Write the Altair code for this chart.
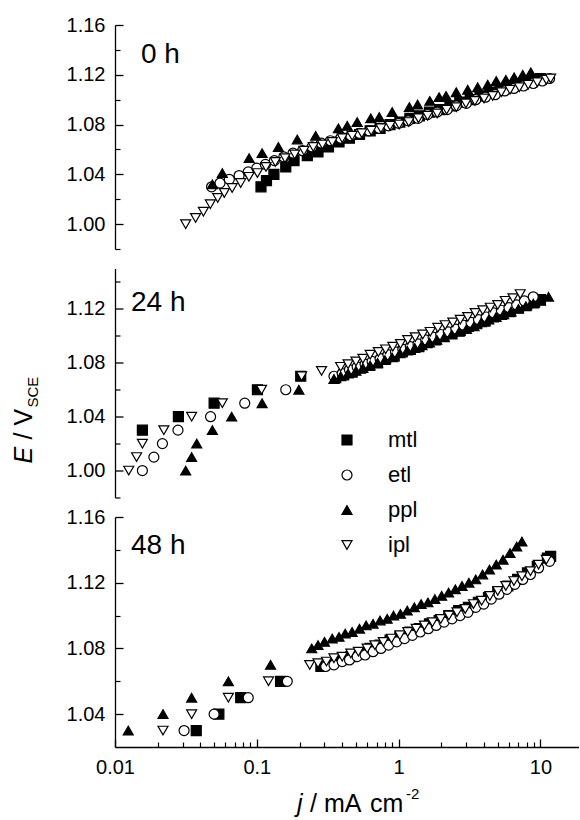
import altair as alt
import pandas as pd

FONT = "Liberation Sans"
SERIES = ["mtl", "etl", "ppl", "ipl"]
SHAPES = ["square", "circle", "triangle-up", "triangle-down"]
FILLS = ["black", "white", "black", "white"]
STROKES = ["black", "black", "black", "black"]
SIZES = [100, 100, 150, 150]

X_DOMAIN = [0.01, 18.7]
X_MAJOR = [0.01, 0.1, 1, 10]
X_MINOR = [0.02, 0.03, 0.04, 0.05, 0.06, 0.07, 0.08, 0.09,
           0.2, 0.3, 0.4, 0.5, 0.6, 0.7, 0.8, 0.9,
           2, 3, 4, 5, 6, 7, 8, 9]

PANEL_LABELS = ["0 h", "24 h", "48 h"]
Y_DOMAINS = [[0.98, 1.16], [0.98, 1.15], [1.02, 1.16]]
Y_MAJOR = [[1.00, 1.04, 1.08, 1.12, 1.16], [1.00, 1.04, 1.08, 1.12], [1.04, 1.08, 1.12, 1.16]]
Y_MINOR = [[0.98, 1.02, 1.06, 1.10, 1.14], [0.98, 1.02, 1.06, 1.10, 1.14], [1.06, 1.10, 1.14]]

# ---------------- 0 h ----------------
mtl_0_j = [0.107, 0.117, 0.132, 0.16, 0.183, 0.227, 0.27, 0.32, 0.38, 0.45, 0.53, 0.63, 0.74, 0.87, 1.02,
           1.2, 1.4, 1.65, 1.95, 2.3, 2.7, 3.2, 3.75, 4.4, 5.2, 6.1, 7.2, 8.5, 10.0]
mtl_0_E = [1.030, 1.035, 1.040, 1.046, 1.051, 1.055, 1.058, 1.062, 1.066, 1.069, 1.072, 1.075, 1.077, 1.080, 1.082,
           1.085, 1.087, 1.090, 1.092, 1.095, 1.098, 1.100, 1.103, 1.106, 1.108, 1.111, 1.113, 1.115, 1.117]
etl_0_j = [0.048, 0.055, 0.064, 0.075, 0.087, 0.100, 0.115, 0.133, 0.155, 0.18, 0.21, 0.245, 0.285, 0.33, 0.39,
           0.46, 0.53, 0.62, 0.73, 0.85, 1.0, 1.17, 1.37, 1.6, 1.87, 2.2, 2.55, 3.0, 3.5, 4.1, 4.8, 5.6, 6.5,
           7.6, 8.9, 10.3, 11.6]
etl_0_E = [1.030, 1.033, 1.036, 1.039, 1.042, 1.045, 1.048, 1.051, 1.054, 1.057, 1.059, 1.062, 1.065, 1.067, 1.069,
           1.071, 1.073, 1.075, 1.077, 1.079, 1.081, 1.083, 1.085, 1.088, 1.090, 1.092, 1.095, 1.097, 1.100, 1.102,
           1.104, 1.107, 1.109, 1.111, 1.113, 1.115, 1.117]
ppl_0_j = [0.0486, 0.0571, 0.0883, 0.109, 0.142, 0.193, 0.260, 0.376, 0.434, 0.51, 0.636, 0.73, 0.90, 1.19, 1.36,
           1.66, 1.93, 2.16, 2.55, 3.07, 3.61, 4.25, 4.88, 5.70, 6.52, 7.50, 8.55]
ppl_0_E = [1.032, 1.041, 1.053, 1.057, 1.062, 1.068, 1.071, 1.077, 1.079, 1.082, 1.085, 1.086, 1.090, 1.094, 1.096,
           1.099, 1.102, 1.103, 1.106, 1.108, 1.110, 1.112, 1.115, 1.116, 1.118, 1.120, 1.122]
ipl_0_j = [0.0315, 0.037, 0.042, 0.047, 0.053, 0.059, 0.067, 0.077, 0.088, 0.101, 0.116, 0.135, 0.158, 0.185,
           0.215, 0.25, 0.29, 0.34, 0.40, 0.47, 0.55, 0.64, 0.75, 0.87, 1.01, 1.18, 1.38, 1.60, 1.87, 2.18, 2.55,
           2.98, 3.45, 4.0, 4.6, 5.3, 6.1, 7.1, 8.2, 9.5, 11.0, 11.8]
ipl_0_E = [1.000, 1.005, 1.010, 1.016, 1.021, 1.025, 1.029, 1.033, 1.038, 1.041, 1.046, 1.050, 1.053, 1.056,
           1.059, 1.062, 1.064, 1.066, 1.069, 1.071, 1.073, 1.075, 1.077, 1.079, 1.080, 1.082, 1.085, 1.087, 1.089,
           1.092, 1.094, 1.097, 1.099, 1.101, 1.103, 1.106, 1.108, 1.110, 1.112, 1.114, 1.116, 1.117]

# ---------------- 24 h ----------------
mtl_24_j = [0.0156, 0.028, 0.050, 0.101, 0.204,
            0.36, 0.41, 0.47, 0.54, 0.62, 0.71, 0.81, 0.93, 1.06, 1.21, 1.39, 1.59, 1.82, 2.08, 2.38, 2.72,
            3.11, 3.56, 4.07, 4.66, 5.33, 6.1, 7.0, 8.0, 9.1, 10.0]
mtl_24_E = [1.03, 1.04, 1.05, 1.06, 1.07,
            1.069, 1.071, 1.073, 1.076, 1.078, 1.080, 1.083, 1.085, 1.088, 1.090, 1.092, 1.095, 1.097, 1.100,
            1.102, 1.104, 1.107, 1.109, 1.111, 1.114, 1.116, 1.118, 1.121, 1.123, 1.125, 1.127]
etl_24_j = [0.0156, 0.0188, 0.0216, 0.0278, 0.0472, 0.0822, 0.160,
            0.35, 0.40, 0.45, 0.51, 0.58, 0.65, 0.74, 0.84, 0.95, 1.07, 1.21, 1.37, 1.55, 1.75, 1.98, 2.24,
            2.53, 2.86, 3.24, 3.66, 4.14, 4.68, 5.3, 6.0, 6.8, 7.7, 8.9]
etl_24_E = [1.00, 1.01, 1.02, 1.03, 1.04, 1.05, 1.06,
            1.070, 1.072, 1.075, 1.077, 1.079, 1.081, 1.083, 1.086, 1.088, 1.090, 1.092, 1.094, 1.097, 1.099,
            1.101, 1.103, 1.105, 1.108, 1.110, 1.112, 1.114, 1.117, 1.119, 1.121, 1.123, 1.126, 1.129]
ppl_24_j = [0.0315, 0.0347, 0.0377, 0.0486, 0.0665, 0.109, 0.198,
            0.35, 0.39, 0.44, 0.50, 0.56, 0.63, 0.71, 0.80, 0.90, 1.02, 1.15, 1.30, 1.46, 1.65, 1.86, 2.1,
            2.37, 2.67, 3.01, 3.4, 3.83, 4.32, 4.87, 5.5, 6.2, 7.0, 7.9, 8.9, 10.0, 11.4]
ppl_24_E = [1.00, 1.01, 1.02, 1.03, 1.04, 1.05, 1.06,
            1.068, 1.070, 1.072, 1.074, 1.076, 1.078, 1.080, 1.082, 1.084, 1.087, 1.089, 1.091, 1.093, 1.095,
            1.097, 1.099, 1.101, 1.103, 1.105, 1.107, 1.110, 1.112, 1.114, 1.116, 1.118, 1.120, 1.122, 1.124,
            1.126, 1.129]
ipl_24_j = [0.0125, 0.0142, 0.0156, 0.0221, 0.0347, 0.0571, 0.108, 0.207, 0.286,
            0.39, 0.44, 0.50, 0.56, 0.63, 0.72, 0.81, 0.91, 1.03, 1.16, 1.31, 1.48, 1.67, 1.89, 2.13, 2.41,
            2.72, 3.07, 3.47, 3.92, 4.43, 5.0, 5.65, 6.4, 7.2]
ipl_24_E = [1.00, 1.01, 1.02, 1.03, 1.04, 1.05, 1.06, 1.07, 1.074,
            1.077, 1.079, 1.081, 1.083, 1.086, 1.088, 1.090, 1.092, 1.094, 1.097, 1.099, 1.101, 1.103, 1.106,
            1.108, 1.110, 1.112, 1.114, 1.117, 1.119, 1.121, 1.123, 1.126, 1.128, 1.131]

# ---------------- 48 h ----------------
mtl_48_j = [0.0374, 0.054, 0.077, 0.147,
            0.283, 0.33, 0.39, 0.46, 0.54, 0.63, 0.74, 0.87, 1.02, 1.2, 1.4, 1.65, 1.93, 2.26, 2.65, 3.1, 3.65,
            4.3, 5.0, 5.9, 6.9, 8.1, 9.5, 11.2, 11.8]
mtl_48_E = [1.03, 1.04, 1.05, 1.06,
            1.069, 1.071, 1.073, 1.075, 1.077, 1.080, 1.082, 1.085, 1.087, 1.090, 1.092, 1.095, 1.097, 1.100,
            1.103, 1.105, 1.108, 1.111, 1.114, 1.118, 1.122, 1.126, 1.130, 1.135, 1.136]
etl_48_j = [0.0307, 0.050, 0.087, 0.164,
            0.306, 0.35, 0.40, 0.45, 0.51, 0.58, 0.66, 0.75, 0.85, 0.97, 1.10, 1.25, 1.42, 1.62, 1.84, 2.09,
            2.38, 2.71, 3.08, 3.5, 3.98, 4.5, 5.1, 5.8, 6.6, 7.5, 8.5, 9.7, 11.6]
etl_48_E = [1.03, 1.04, 1.05, 1.06,
            1.069, 1.070, 1.072, 1.073, 1.075, 1.076, 1.078, 1.080, 1.082, 1.084, 1.086, 1.088, 1.090, 1.092,
            1.094, 1.096, 1.098, 1.100, 1.102, 1.105, 1.107, 1.110, 1.113, 1.116, 1.119, 1.122, 1.125, 1.129,
            1.133]
ppl_48_j = [0.0124, 0.0218, 0.0347, 0.063, 0.125,
            0.244, 0.27, 0.30, 0.34, 0.38, 0.42, 0.47, 0.53, 0.59, 0.66, 0.74, 0.83, 0.92, 1.03, 1.15, 1.29,
            1.44, 1.61, 1.80, 2.01, 2.25, 2.51, 2.80, 3.13, 3.50, 3.91, 4.37, 4.88, 5.45, 6.1, 6.8, 7.4]
ppl_48_E = [1.03, 1.04, 1.05, 1.06, 1.07,
            1.080, 1.082, 1.084, 1.086, 1.087, 1.089, 1.090, 1.092, 1.094, 1.095, 1.097, 1.098, 1.100, 1.101,
            1.103, 1.105, 1.107, 1.108, 1.110, 1.112, 1.114, 1.116, 1.118, 1.120, 1.122, 1.125, 1.128, 1.131,
            1.134, 1.138, 1.142, 1.145]
ipl_48_j = [0.0218, 0.0347, 0.063, 0.121,
            0.236, 0.27, 0.31, 0.35, 0.40, 0.46, 0.52, 0.60, 0.68, 0.78, 0.89, 1.02, 1.16, 1.33, 1.52, 1.73,
            1.98, 2.26, 2.58, 2.95, 3.37, 3.85, 4.4, 5.0, 5.7, 6.5, 7.4, 8.5, 9.7, 11.0]
ipl_48_E = [1.03, 1.04, 1.05, 1.06,
            1.070, 1.071, 1.072, 1.074, 1.075, 1.077, 1.078, 1.080, 1.082, 1.084, 1.086, 1.088, 1.090, 1.092,
            1.094, 1.096, 1.098, 1.100, 1.102, 1.104, 1.107, 1.109, 1.112, 1.115, 1.118, 1.121, 1.124, 1.127,
            1.131, 1.134]

PANEL_DATA = [
    [("mtl", mtl_0_j, mtl_0_E), ("etl", etl_0_j, etl_0_E), ("ppl", ppl_0_j, ppl_0_E), ("ipl", ipl_0_j, ipl_0_E)],
    [("mtl", mtl_24_j, mtl_24_E), ("etl", etl_24_j, etl_24_E), ("ppl", ppl_24_j, ppl_24_E), ("ipl", ipl_24_j, ipl_24_E)],
    [("mtl", mtl_48_j, mtl_48_E), ("etl", etl_48_j, etl_48_E), ("ppl", ppl_48_j, ppl_48_E), ("ipl", ipl_48_j, ipl_48_E)],
]


def make_df(parts):
    rows = []
    for name, js, es in parts:
        for j, e in zip(js, es):
            rows.append({"series": name, "j": j, "E": e})
    return pd.DataFrame(rows)


WIDTH = 464
HEIGHTS = [224, 229, 230]
LABEL_POS = [(26, 38), (16, 42), (16, 37)]

LEGEND = alt.Legend(title=None, orient="none", legendX=221, legendY=404,
                    labelFont=FONT, labelFontSize=22, labelColor="black",
                    labelOffset=30, rowPadding=13,
                    symbolStrokeColor="black", symbolStrokeWidth=1.2)


def text_layer(txt, x, y, size=25, italic=False, angle=0):
    kw = dict(align="left", baseline="alphabetic", font=FONT, fontSize=size, color="black")
    if italic:
        kw["fontStyle"] = "italic"
    if angle:
        kw["angle"] = angle
    return alt.Chart(pd.DataFrame({"t": [txt]})).mark_text(**kw).encode(
        x=alt.value(x), y=alt.value(y), text="t:N")


panels = []
for i in range(3):
    df = make_df(PANEL_DATA[i])
    xs = alt.Scale(type="log", domain=X_DOMAIN, nice=False)
    ys = alt.Scale(domain=Y_DOMAINS[i], nice=False, zero=False)
    last = i == 2
    if last:
        xa_major = alt.Axis(values=X_MAJOR, format="~g", orient="bottom", tickSize={"expr": "-8"},
                            labelPadding=18, title=None, grid=False, labelFlush=False, labelOverlap=False,
                            labelFont=FONT, labelFontSize=20, labelColor="black",
                            domainColor="black", domainWidth=1.3, tickColor="black", tickWidth=1.3)
        xa_minor = alt.Axis(values=X_MINOR, labels=False, orient="bottom", tickSize={"expr": "-5"},
                            domain=False, title=None, grid=False, tickColor="black", tickWidth=1.2)
    else:
        xa_major = None
        xa_minor = None
    ya_major = alt.Axis(values=Y_MAJOR[i], format=".2f", orient="left", tickSize={"expr": "-8"},
                        labelPadding=18, title=None, grid=False, labelFlush=False, labelOverlap=False,
                        labelFont=FONT, labelFontSize=20, labelColor="black",
                        domainColor="black", domainWidth=1.3, tickColor="black", tickWidth=1.3)
    ya_minor = alt.Axis(values=Y_MINOR[i], labels=False, orient="left", tickSize={"expr": "-5"},
                        domain=False, title=None, grid=False, tickColor="black", tickWidth=1.2)

    pts = alt.Chart(df).mark_point(filled=True, strokeWidth=1.2, opacity=1).encode(
        x=alt.X("j:Q", scale=xs, axis=xa_major),
        y=alt.Y("E:Q", scale=ys, axis=ya_major),
        shape=alt.Shape("series:N", scale=alt.Scale(domain=SERIES, range=SHAPES), legend=LEGEND),
        fill=alt.Fill("series:N", scale=alt.Scale(domain=SERIES, range=FILLS), legend=LEGEND),
        stroke=alt.Stroke("series:N", scale=alt.Scale(domain=SERIES, range=STROKES), legend=LEGEND),
        size=alt.Size("series:N", scale=alt.Scale(domain=SERIES, range=SIZES), legend=LEGEND),
    )
    ghost = alt.Chart(df).mark_point(opacity=0).encode(
        x=alt.X("j:Q", scale=xs, axis=xa_minor),
        y=alt.Y("E:Q", scale=ys, axis=ya_minor),
    )
    lx, ly = LABEL_POS[i]
    layers = [pts, ghost, text_layer(PANEL_LABELS[i], lx, ly, size=28)]
    if i == 1:
        # y-axis title: E / V_SCE (rotated)
        layers += [
            text_layer("E", -83, 195, italic=True, angle=270),
            text_layer("/", -83, 171, angle=270),
            text_layer("V", -83, 157, angle=270),
            text_layer("SCE", -77, 139, size=15, angle=270),
        ]
    if last:
        # x-axis title: j / mA cm^-2
        layers += [
            text_layer("j", 182, 295, italic=True),
            text_layer("/", 195, 295),
            text_layer("mA", 209, 295),
            text_layer("cm", 255, 295),
            text_layer("-2", 291, 282, size=15),
        ]
    panel = alt.layer(*layers).resolve_axis(x="independent", y="independent").properties(
        width=WIDTH, height=HEIGHTS[i])
    panels.append(panel)

chart = alt.vconcat(*panels, spacing=19.5, bounds="flush").properties(
    padding={"left": 12, "top": 15, "right": 0, "bottom": 4}
).configure_view(stroke=None).configure_axis(grid=False)

chart.save("out.html", embed_options={"renderer": "svg", "actions": False})
